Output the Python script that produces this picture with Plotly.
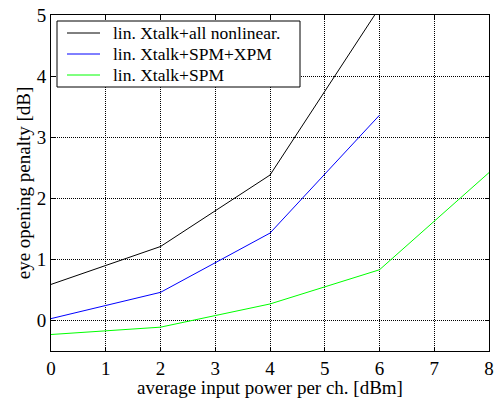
import plotly.graph_objects as go

x_all = [0, 2, 4, 6]
y_all = [0.59, 1.21, 2.38, 5.12]
x_xpm = [0, 2, 4, 6]
y_xpm = [0.03, 0.46, 1.43, 3.36]
x_spm = [0, 2, 4, 6, 8]
y_spm = [-0.23, -0.11, 0.27, 0.83, 2.42]

names = ["lin. Xtalk+all nonlinear.", "lin. Xtalk+SPM+XPM", "lin. Xtalk+SPM"]
colors = ["#000000", "#0000ff", "#00ff00"]

W, H = 494, 398
ML, MR, MT, MB = 51, 5, 15, 47
PW, PH = W - ML - MR, H - MT - MB


def px(x):
    return (x - ML) / PW


def py(y):
    return (H - MB - y) / PH


fig = go.Figure()
for xs, ys, n, c in zip([x_all, x_xpm, x_spm], [y_all, y_xpm, y_spm], names, colors):
    fig.add_trace(go.Scatter(x=xs, y=ys, mode="lines", name=n,
                             line=dict(color=c, width=1)))

font = "Liberation Serif, Times New Roman, serif"
axis_common = dict(showline=True, linecolor="black", linewidth=1, mirror="allticks",
                   ticks="inside", ticklen=4, tickcolor="black",
                   showgrid=True, gridcolor="black", griddash="1px,1px", gridwidth=1,
                   zeroline=False, ticklabeloverflow="allow", automargin=False,
                   tickfont=dict(family=font, size=19, color="black"))
fig.update_xaxes(range=[0, 8], dtick=1,
                 title=dict(text="average input power per ch. [dBm]",
                            font=dict(family=font, size=19, color="black"), standoff=5),
                 **axis_common)
fig.update_yaxes(range=[-0.5, 5], tickvals=[0, 1, 2, 3, 4, 5],
                 title=dict(text="eye opening penalty [dB]",
                            font=dict(family=font, size=19, color="black"), standoff=1),
                 **axis_common)

# legend box (drawn as shapes + text for exact MATLAB-like spacing)
shapes = [dict(type="rect", xref="paper", yref="paper", layer="above",
               x0=px(57), x1=px(300), y0=py(87), y1=py(21),
               line=dict(color="black", width=1), fillcolor="white")]
annotations = []
row_y = [33, 54, 75]
for n, c, ry in zip(names, colors, row_y):
    shapes.append(dict(type="line", xref="paper", yref="paper", layer="above",
                       x0=px(67), x1=px(100), y0=py(ry), y1=py(ry),
                       line=dict(color=c, width=1)))
    annotations.append(dict(xref="paper", yref="paper", x=px(111), y=py(ry),
                            xanchor="left", yanchor="middle", showarrow=False,
                            text=n, font=dict(family=font, size=17.5, color="black")))

fig.update_layout(width=W, height=H, margin=dict(l=ML, r=MR, t=MT, b=MB),
                  plot_bgcolor="white", paper_bgcolor="white",
                  font=dict(family=font, color="black"),
                  shapes=shapes, annotations=annotations,
                  showlegend=False)
fig.write_html("out.html")
